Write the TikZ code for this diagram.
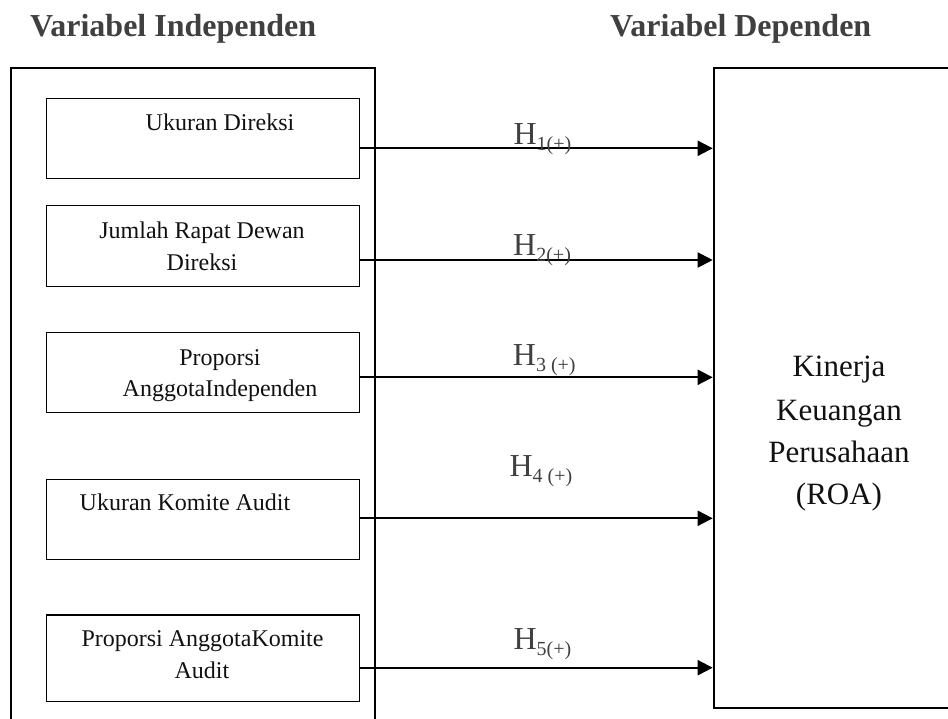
\documentclass[tikz,border=0pt]{standalone}
\usepackage{fontspec}
\setmainfont{Liberation Serif}
\usetikzlibrary{arrows.meta}
\definecolor{titlegrey}{HTML}{404040}
\definecolor{hgrey}{HTML}{404040}
\definecolor{inkblack}{HTML}{111111}
\begin{document}
\begin{tikzpicture}[x=1pt,y=1pt,
  outer/.style={draw=black,line width=2pt,inner sep=0pt,anchor=north west},
  varbox/.style={draw=black,line width=1.4pt,minimum width=312.7pt,inner sep=0pt,anchor=north west},
  boxtext/.style={font=\fontsize{24}{24}\selectfont,text=inkblack,anchor=base,inner sep=0pt},
  deptext/.style={font=\fontsize{31}{31}\selectfont,text=inkblack,anchor=base,inner sep=0pt},
  htext/.style={font=\fontsize{32}{32}\selectfont,text=hgrey,anchor=base west,inner sep=0pt},
  titletext/.style={font=\bfseries\fontsize{32}{32}\selectfont,text=titlegrey,anchor=base west,inner sep=0pt},
  arr/.style={line width=2pt,-{Triangle[length=15pt,width=15pt]}}]
\useasboundingbox (0,0) rectangle (948,-718);
\clip (0,0) rectangle (948,-718);
\newcommand{\hsub}[1]{\raisebox{-6pt}{\fontsize{20}{20}\selectfont #1}}

% titles
\node[titletext] (ttl) at (30,-36) {Variabel Independen};
\node[titletext] (ttr) at (610,-36) {Variabel Dependen};

% containers
\node[outer,minimum width=364pt,minimum height=700pt] (indep) at (10,-66.7) {};
\node[outer,minimum width=260pt,minimum height=640.3pt] (dep) at (712.7,-66.7) {};

% inner boxes
\node[varbox,minimum height=80.3pt] (b1) at (46,-97.7) {};
\node[varbox,minimum height=81pt] (b2) at (46,-205) {};
\node[varbox,minimum height=80pt] (b3) at (46,-332) {};
\node[varbox,minimum height=80pt] (b4) at (46,-479) {};
\node[varbox,minimum height=86.7pt] (b5) at (46,-614.3) {};

% box texts
\node[boxtext] (t1) at (220,-130) {Ukuran Direksi};
\node[boxtext] (t2a) at (202,-238) {Jumlah Rapat Dewan};
\node[boxtext] (t2b) at (202,-270) {Direksi};
\node[boxtext] (t3a) at (220,-365) {Proporsi};
\node[boxtext] (t3b) at (220,-396.7) {AnggotaIndependen};
\node[boxtext] (t4) at (185,-510) {Ukuran Komite Audit};
\node[boxtext] (t5a) at (202.5,-646.7) {Proporsi AnggotaKomite};
\node[boxtext] (t5b) at (202,-678) {Audit};

% dependent text
\node[deptext] (k1) at (839,-376.7) {Kinerja};
\node[deptext] (k2) at (839,-420) {Keuangan};
\node[deptext] (k3) at (839,-462) {Perusahaan};
\node[deptext] (k4) at (839,-504.5) {(ROA)};

% arrow heights
\coordinate (y1) at (0,-148.3);
\coordinate (y2) at (0,-260);
\coordinate (y3) at (0,-377.3);
\coordinate (y4) at (0,-518.3);
\coordinate (y5) at (0,-667.7);

\draw[arr] (b1.east |- y1) -- (dep.west |- y1);
\draw[arr] (b2.east |- y2) -- (dep.west |- y2);
\draw[arr] (b3.east |- y3) -- (dep.west |- y3);
\draw[arr] (b4.east |- y4) -- (dep.west |- y4);
\draw[arr] (b5.east |- y5) -- (dep.west |- y5);

% hypothesis labels
\node[htext] (h1) at (513.3,-144.3) {H\hsub{1(+)}};
\node[htext] (h2) at (513,-255) {H\hsub{2(+)}};
\node[htext] (h3) at (512.7,-365) {H\hsub{3 (+)}};
\node[htext] (h4) at (509.3,-476) {H\hsub{4 (+)}};
\node[htext] (h5) at (513.3,-649.3) {H\hsub{5(+)}};
\end{tikzpicture}
\end{document}
